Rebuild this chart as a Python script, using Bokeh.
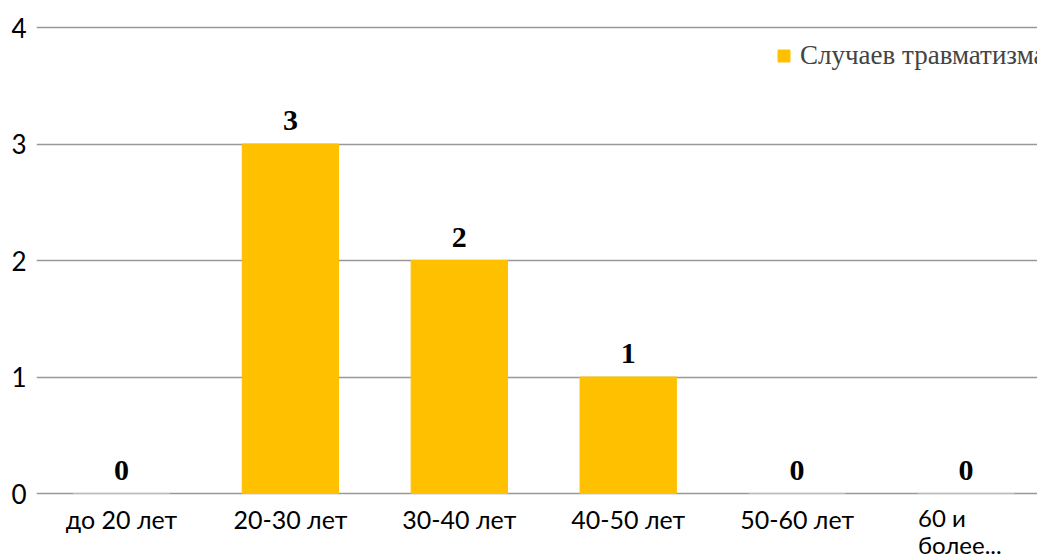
from bokeh.plotting import figure
from bokeh.models import Range1d, FixedTicker, Legend, LegendItem, ColumnDataSource
from bokeh.core.properties import value
from bokeh.embed import file_html
from bokeh.resources import INLINE

categories = ["до 20 лет", "20-30 лет", "30-40 лет", "40-50 лет", "50-60 лет", "60 и более лет"]
display_labels = ["до 20 лет", "20-30 лет", "30-40 лет", "40-50 лет", "50-60 лет", "60 и\nболее..."]
values = [0, 3, 2, 1, 0, 0]
series_name = "Случаев травматизма"
y_ticks = [0, 1, 2, 3, 4]

BAR_COLOR = "#FFC000"
AXIS_FONT = "Lato, 'Liberation Serif'"
SERIF = "Liberation Serif"

xs = [i + 0.5 for i in range(len(categories))]
src = ColumnDataSource(dict(
    x=xs, top=values, cat=categories,
    label=[str(v) for v in values],
))
lab_src = ColumnDataSource(dict(x=xs[:-1], text=display_labels[:-1]))
last_src = ColumnDataSource(dict(x=xs[-1:], text=display_labels[-1:]))

W, H = 1037, 560
p = figure(width=W, height=H, output_backend="svg", toolbar_location=None,
           x_range=Range1d(-0.003, (W - 36) / 169.0),
           y_range=Range1d(-0.575, 4.232),
           min_border_left=36, min_border_right=0, min_border_top=0, min_border_bottom=0,
           x_axis_location=None)
p.outline_line_color = None
p.background_fill_color = "white"
p.border_fill_color = "white"

yax = p.yaxis[0]
yax.ticker = FixedTicker(ticks=y_ticks)
yax.axis_line_color = None
yax.major_tick_line_color = None
yax.minor_tick_line_color = None
yax.major_label_text_font = AXIS_FONT
yax.major_label_text_font_size = "26px"
yax.major_label_text_color = "#000000"
yax.major_label_standoff = 4

p.xgrid.visible = False
p.ygrid.ticker = FixedTicker(ticks=y_ticks)
p.ygrid.grid_line_color = "#999999"
p.ygrid.grid_line_width = 1.6

bars = p.vbar(x="x", top="top", bottom=0, width=0.57, source=src,
              fill_color=BAR_COLOR, line_color=BAR_COLOR, line_width=1)

p.text(x="x", y="top", text="label", source=src,
       text_font=value(SERIF), text_font_style="bold", text_font_size="30px",
       text_align="center", text_baseline="bottom", y_offset=-14, text_color="#000000")

p.text(x="x", y=0, text="text", source=lab_src,
       text_font=value(AXIS_FONT), text_font_size="25px",
       text_align="center", text_baseline="top", y_offset=10, text_color="#000000")
p.text(x="x", y=0, text="text", source=last_src,
       text_font=value(AXIS_FONT), text_font_size="24px", text_line_height=0.95,
       text_align="left", text_baseline="top", x_offset=-48, y_offset=9, text_color="#000000")

legend = Legend(items=[LegendItem(label=series_name, renderers=[bars])],
                location=(740, 489), orientation="vertical",
                label_text_font=SERIF, label_text_font_size="27px",
                glyph_width=15, glyph_height=15, label_standoff=9,
                padding=0, margin=0, border_line_color=None,
                background_fill_alpha=0)
p.add_layout(legend)

open("out.html", "w").write(file_html(p, INLINE))
